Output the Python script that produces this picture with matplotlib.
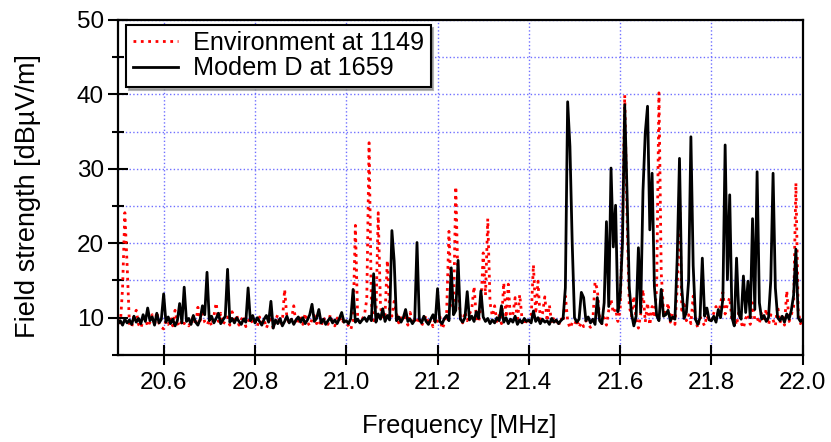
import numpy as np
import matplotlib
matplotlib.use("Agg")
from matplotlib import pyplot as plt
from matplotlib.ticker import MultipleLocator

plt.rcParams['font.family'] = ['Liberation Sans', 'DejaVu Sans']

# sweep from 20.5 to 22.0 MHz, 5 kHz steps
freq = np.linspace(20.5, 22.0, 301)

# Environment at 1149 (red dotted), one row = 0.1 MHz
environment = [
    9.8, 9.0, 14.0, 24.1, 17.0, 9.2, 8.7, 10.3, 11.0, 9.1, 8.6, 9.7, 10.0, 8.8, 9.4, 10.4, 9.0, 10.8, 9.2, 8.7,
    8.5, 9.6, 9.1, 10.0, 8.9, 11.0, 9.3, 8.8, 9.7, 9.2, 9.9, 8.9, 9.5, 10.2, 9.0, 11.4, 9.6, 10.6, 9.4, 9.0,
    9.7, 8.9, 10.2, 12.0, 9.5, 10.6, 9.1, 9.6, 10.1, 9.0, 10.8, 9.3, 10.4, 9.0, 9.7, 10.3, 8.8, 9.5, 10.0, 9.2,
    9.6, 8.8, 10.1, 9.3, 9.8, 8.6, 9.4, 10.2, 8.5, 9.7, 10.4, 9.0, 9.5, 13.8, 10.0, 9.2, 9.8, 11.6, 9.1, 9.6,
    10.2, 9.1, 10.6, 9.4, 8.9, 9.8, 10.3, 9.2, 9.7, 8.8, 10.0, 9.5, 9.1, 10.4, 9.3, 8.9, 9.9, 10.3, 9.2, 9.6,
    9.4, 8.9, 8.4, 9.6, 22.4, 10.0, 9.3, 9.8, 10.4, 12.5, 33.5, 12.0, 9.6, 10.3, 24.1, 11.5, 9.8, 10.5, 17.7, 10.8,
    10.2, 12.2, 10.6, 9.3, 10.0, 9.5, 10.5, 9.0, 10.7, 9.4, 9.9, 9.2, 10.1, 8.9, 9.6, 10.3, 9.1, 9.7, 8.8, 10.0,
    9.5, 10.2, 8.5, 9.2, 10.8, 21.6, 12.5, 11.0, 27.6, 14.0, 10.1, 9.3, 10.8, 9.6, 10.5, 11.2, 14.2, 10.0, 9.4, 11.5,
    18.7, 13.0, 23.3, 12.0, 10.2, 11.6, 9.5, 10.3, 9.2, 14.7, 10.0, 14.5, 9.6, 10.4, 12.7, 9.4, 13.1, 9.9, 9.0, 9.7,
    9.3, 10.0, 17.1, 10.5, 14.9, 9.8, 10.6, 12.8, 9.5, 11.7, 9.2, 10.1, 9.6, 8.9, 10.0, 9.4, 12.9, 9.6, 8.6, 9.3,
    9.0, 9.8, 8.7, 9.4, 8.8, 9.6, 9.1, 8.7, 9.5, 14.8, 13.8, 9.8, 9.2, 10.0, 9.0, 11.0, 12.5, 10.6, 11.2, 9.5,
    11.0, 22.0, 39.9, 24.0, 11.5, 10.2, 12.9, 9.8, 8.6, 10.5, 13.8, 9.4, 12.0, 9.0, 11.5, 10.0, 14.0, 40.2, 16.0, 11.0,
    10.2, 12.0, 9.4, 10.6, 9.1, 14.0, 27.0, 11.0, 12.2, 9.6, 10.4, 9.2, 12.9, 9.8, 8.6, 10.1, 9.5, 8.9, 10.3, 9.4,
    9.8, 10.6, 11.5, 10.0, 12.0, 13.4, 10.5, 11.8, 12.7, 9.6, 10.2, 9.0, 10.8, 9.3, 8.6, 9.9, 10.5, 9.1, 12.0, 9.7,
    10.0, 9.2, 10.8, 9.5, 11.2, 9.0, 10.4, 9.7, 8.9, 11.6, 9.3, 10.2, 9.0, 13.6, 9.5, 10.4, 11.5, 28.1, 11.0, 9.2,
    9.6,
]

# Modem D at 1659 (black solid)
modem = [
    9.2, 9.6, 9.0, 9.8, 9.3, 9.7, 9.1, 10.2, 9.4, 9.9, 9.2, 10.4, 9.5, 11.3, 9.6, 10.1, 9.0, 10.6, 9.3, 9.8,
    13.2, 9.4, 10.1, 9.2, 9.8, 8.9, 9.6, 11.9, 9.3, 14.1, 9.5, 9.9, 9.1, 10.3, 9.4, 9.0, 9.8, 11.6, 10.4, 16.1,
    9.6, 10.2, 9.3, 9.9, 10.6, 9.2, 9.7, 10.2, 16.5, 9.4, 9.9, 9.3, 10.0, 9.5, 9.1, 9.8, 9.4, 14.0, 9.6, 10.3,
    9.3, 10.0, 9.5, 9.0, 9.8, 10.3, 9.4, 12.2, 8.6, 9.7, 9.2, 9.9, 8.9, 9.5, 10.2, 9.3, 9.8, 9.1, 9.7, 10.1,
    9.4, 10.0, 9.2, 9.7, 10.4, 11.8, 9.5, 9.9, 11.1, 9.3, 9.8, 9.1, 9.6, 10.0, 9.3, 9.7, 9.2, 9.9, 10.7, 9.4,
    9.6, 9.2, 9.9, 13.8, 9.4, 9.8, 9.3, 9.7, 10.0, 9.5, 10.2, 9.6, 15.9, 9.4, 10.5, 9.8, 11.2, 9.5, 10.3, 9.7,
    21.7, 17.6, 9.6, 10.1, 9.4, 10.0, 11.1, 9.5, 9.8, 9.2, 9.7, 20.1, 9.8, 9.3, 10.2, 9.5, 9.1, 9.8, 10.4, 9.4,
    13.9, 9.5, 9.2, 9.9, 10.3, 9.6, 16.7, 10.4, 11.0, 17.7, 9.8, 9.4, 10.0, 13.5, 9.7, 10.2, 9.5, 10.8, 9.9, 13.6,
    10.1, 9.5, 9.9, 9.2, 9.7, 9.3, 10.0, 9.6, 11.6, 9.4, 10.0, 9.2, 9.8, 9.4, 10.2, 9.1, 9.7, 9.3, 9.9, 9.5,
    9.7, 9.3, 10.9, 9.5, 10.0, 9.2, 9.8, 9.4, 9.6, 9.1, 9.9, 9.4, 9.7, 9.2, 9.6, 9.9, 14.0, 39.0, 33.0, 20.0,
    10.0, 9.4, 9.8, 13.4, 12.7, 9.6, 10.1, 9.3, 9.8, 9.1, 12.7, 9.6, 9.2, 12.0, 22.9, 11.5, 30.1, 19.5, 25.1, 10.8,
    12.9, 20.0, 38.6, 27.0, 14.0, 10.5, 8.9, 10.2, 19.4, 10.7, 27.0, 34.8, 38.4, 21.8, 29.4, 14.2, 10.3, 9.6, 13.8, 10.2,
    10.4, 11.0, 9.6, 10.1, 9.8, 18.0, 31.4, 14.0, 9.9, 10.7, 15.0, 34.3, 17.0, 9.8, 9.1, 10.0, 18.0, 10.2, 11.3, 9.7,
    9.6, 10.2, 9.4, 11.1, 10.0, 12.5, 33.2, 15.1, 26.5, 10.0, 8.9, 18.0, 10.5, 9.8, 15.6, 10.7, 14.9, 10.0, 23.3, 11.1,
    29.6, 12.0, 9.8, 10.3, 9.5, 10.0, 15.0, 29.4, 14.0, 10.0, 9.6, 10.2, 9.4, 10.5, 9.8, 11.0, 13.0, 19.2, 10.0, 9.5,
    9.8,
]

xticks = [20.6, 20.8, 21.0, 21.2, 21.4, 21.6, 21.8, 22.0]
yticks = [10, 20, 30, 40, 50]

fig = plt.figure(figsize=(8.31, 4.42), dpi=100)
ax = fig.add_axes([0.142, 0.197, 0.824, 0.758])

ax.plot(freq, environment, color='red', linestyle=':', linewidth=2.0, label='Environment at 1149')
ax.plot(freq, modem, color='black', linestyle='-', linewidth=2.0, label='Modem D at 1659')

ax.set_xlim(20.5, 22.0)
ax.set_ylim(5, 50)
ax.set_xticks(xticks)
ax.set_xticklabels([f"{t:.1f}" for t in xticks])
ax.set_yticks(yticks)
ax.yaxis.set_minor_locator(MultipleLocator(5))

ax.grid(True, which='major', axis='x', color='#7070ff', linestyle=':', linewidth=1.0)
ax.grid(True, which='both', axis='y', color='#7070ff', linestyle=':', linewidth=1.0)
ax.set_axisbelow(True)

for s in ax.spines.values():
    s.set_linewidth(1.6)

ax.tick_params(axis='both', which='major', direction='inout', length=14, width=1.5, labelsize=17.5)
ax.tick_params(axis='x', which='major', pad=5)
ax.tick_params(axis='y', which='major', pad=3)
ax.tick_params(axis='y', which='minor', direction='inout', length=9, width=1.5)
ax.tick_params(top=False, right=False)

ax.set_xlabel('Frequency [MHz]', fontsize=18.4)
ax.xaxis.set_label_coords(0.499, -0.175)
ax.set_ylabel('Field strength [dBµV/m]', fontsize=19.5)
ax.yaxis.set_label_coords(-0.112, 0.475)

leg = ax.legend(loc='upper left', bbox_to_anchor=(0.012, 0.985), fontsize=18.2, frameon=True,
                fancybox=False, shadow={'color': 'gray', 'alpha': 0.6}, edgecolor='black',
                framealpha=1, borderpad=0.25, labelspacing=0.05, handlelength=1.8, handletextpad=0.6,
                borderaxespad=0)
leg.get_frame().set_linewidth(1.5)

plt.savefig("out.png", dpi=100)
